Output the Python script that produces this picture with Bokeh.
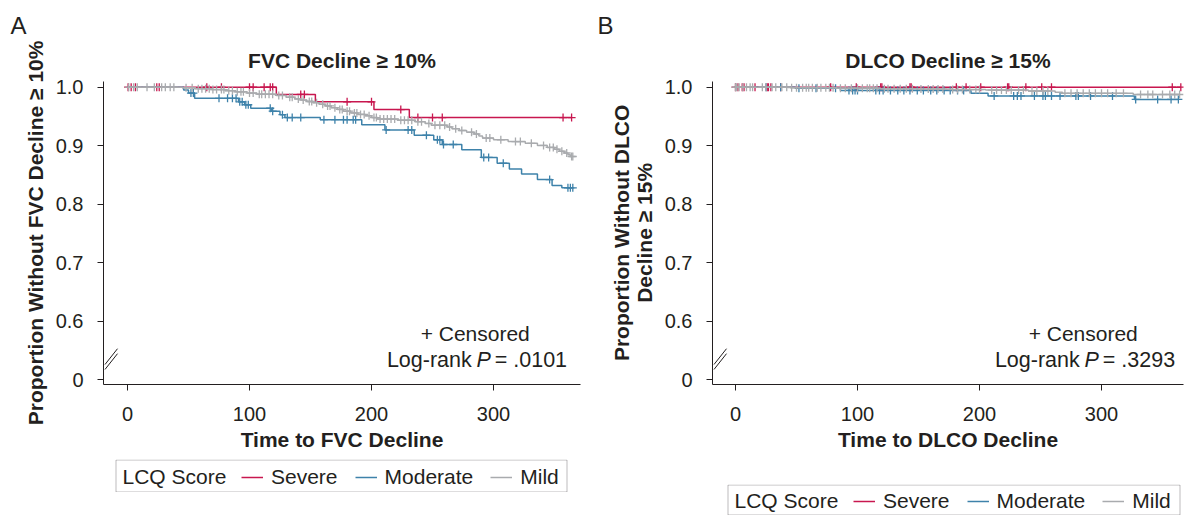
import numpy as np
from bokeh.plotting import figure
from bokeh.models import Legend, LegendItem, Label, Arrow, FixedTicker, Range1d, BoxAnnotation
from bokeh.layouts import row, column
from bokeh.embed import file_html
from bokeh.resources import INLINE

groups = ["Severe", "Moderate", "Mild"]
colors = ["#C8174F", "#3E82AA", "#A9ABAE"]
legend_title = "LCQ Score"

fvc_severe_times = [122, 154, 202, 231]
fvc_severe_surv = [0.9877, 0.9749, 0.9617, 0.948]
fvc_severe_censor = [0.5, 3, 6.5, 24, 26, 65, 77, 100, 103, 112, 117, 119, 142, 145,
                     180, 200, 224, 238, 250, 258, 357, 364]
fvc_moderate_times = [46, 50, 55, 91, 96, 101, 118, 125, 129, 158, 192, 211, 235, 251,
                      258, 274, 290, 303, 313, 323, 336, 348, 356]
fvc_moderate_surv = [0.995, 0.990, 0.981, 0.975, 0.970, 0.964, 0.959, 0.953, 0.948, 0.9445,
                     0.936, 0.927, 0.918, 0.910, 0.902, 0.893, 0.880, 0.870, 0.860, 0.8515,
                     0.842, 0.832, 0.828]
fvc_moderate_censor = [52, 54, 75, 82, 86, 89, 92, 94, 97, 99, 117, 119, 127, 131, 135, 142,
                       161, 170, 177, 180, 185, 187, 212, 230, 233, 245, 254, 256, 259, 267,
                       292, 296, 308, 346, 361, 363, 365]
fvc_mild_times = [45, 55, 68, 80, 88, 98, 106, 122, 130, 137, 142, 147, 152, 157, 162, 167,
                  172, 177, 183, 189, 195, 200, 205, 222, 236, 244, 249, 262, 266, 272, 278,
                  284, 288, 291, 300, 312, 326, 336, 344, 350, 354, 358, 361, 363]
fvc_mild_surv = [0.999, 0.9975, 0.996, 0.994, 0.992, 0.990, 0.988, 0.986, 0.983, 0.980,
                 0.978, 0.9755, 0.9735, 0.971, 0.968, 0.965, 0.962, 0.959, 0.956, 0.9535,
                 0.951, 0.948, 0.9455, 0.9435, 0.941, 0.938, 0.935, 0.932, 0.929, 0.926,
                 0.923, 0.920, 0.9165, 0.913, 0.910, 0.907, 0.904, 0.9005, 0.897, 0.894,
                 0.8905, 0.8875, 0.8845, 0.8815]
fvc_mild_censor = [1, 5, 8, 16, 22, 28, 31, 35, 38, 48, 53, 58, 61, 64, 67, 70, 73, 77, 79,
                   83, 86, 90, 93, 95, 100, 103, 108, 110, 113, 116, 119, 124, 127, 133, 135,
                   140, 144, 149, 151, 155, 160, 164, 166, 170, 174, 176, 180, 182, 186, 188,
                   191, 194, 198, 202, 204, 207, 210, 213, 216, 219, 224, 227, 230, 233, 238,
                   241, 247, 252, 256, 260, 264, 269, 274, 282, 286, 294, 297, 306, 318, 322,
                   331, 341, 346, 349, 352, 356, 360, 364, 365]

dlco_severe_times = []
dlco_severe_surv = []
dlco_severe_censor = [0, 2, 5.5, 7, 16, 26, 27, 29, 37, 78, 99, 119, 120, 143, 144, 181,
                      189, 201, 223, 224, 238, 251, 259, 358, 365]
dlco_moderate_times = [49, 86, 193, 207, 327]
dlco_moderate_surv = [0.998, 0.9945, 0.9895, 0.985, 0.979]
dlco_moderate_censor = [25, 37, 52, 66, 82, 93, 96, 98, 100, 115, 118, 121, 127, 133, 138,
                        143, 149, 154, 160, 165, 171, 176, 182, 187, 212, 228, 231, 234,
                        245, 252, 254, 259, 266, 279, 281, 291, 309, 328, 346, 357, 363]
dlco_mild_times = [45, 82, 118, 150, 178, 205, 240, 262, 268, 326]
dlco_mild_surv = [0.9992, 0.9983, 0.9975, 0.9967, 0.996, 0.995, 0.9935, 0.9915, 0.9895, 0.9875]
dlco_mild_censor = [0, 1, 3, 6, 9, 12, 14, 22, 25, 30, 33, 38, 42, 46, 50, 55, 58, 60, 63,
                    67, 70, 74, 77, 80, 86, 90, 95, 100, 104, 108, 110, 113, 116, 122, 125,
                    130, 135, 140, 145, 152, 158, 162, 166, 170, 178, 182, 186, 192, 197,
                    200, 210, 214, 218, 222, 226, 232, 236, 243, 247, 252, 256, 270, 275,
                    280, 285, 290, 295, 300, 305, 312, 318, 332, 338, 342, 350, 356, 360, 364]

x_ticks = [0, 100, 200, 300]
y_ticks = [0.5, 0.6, 0.7, 0.8, 0.9, 1.0]
y_tick_labels = ["0", "0.6", "0.7", "0.8", "0.9", "1.0"]

FONT = "Liberation Sans"
TXT = "#231f20"
Y_START, Y_AXIS_TOP, Y_END = 0.4918, 1.0097, 1.0798
PAD = "\u00a0" * 7   # keeps the rotated y label centred on the drawn axis, not the frame


def km_xy(times, surv, end):
    x = [0.0] + list(times) + [end]
    last = surv[-1] if len(surv) else 1.0
    y = [1.0] + list(surv) + [last]
    return x, y


def surv_at(times, surv, t):
    tt = np.array([0.0] + list(times), dtype=float)
    ss = np.array([1.0] + list(surv), dtype=float)
    idx = np.searchsorted(tt, np.asarray(t, dtype=float), side="right") - 1
    return ss[idx]


def make_panel(letter, title, xlabel, ylabel, series, pval, x_start, x_end,
               left_b, frame_w, right_b, height, letter_off):
    top_b = 40
    frame_h = 344
    p = figure(width=left_b + frame_w + right_b, height=height,
               x_range=Range1d(x_start, x_end), y_range=Range1d(Y_START, Y_END),
               output_backend="svg", toolbar_location=None,
               min_border_left=left_b, min_border_right=right_b,
               min_border_top=top_b, min_border_bottom=height - top_b - frame_h)
    p.outline_line_color = None
    p.grid.visible = False

    p.title.text = letter
    p.title.align = "left"
    p.title.offset = letter_off
    p.title.standoff = 4
    p.title.text_font = FONT
    p.title.text_font_size = "24px"
    p.title.text_font_style = "normal"
    p.title.text_color = TXT

    for ax in (p.xaxis[0], p.yaxis[0]):
        ax.axis_line_color = TXT
        ax.major_tick_line_color = TXT
        ax.minor_tick_line_color = None
        ax.major_tick_out = 6
        ax.major_tick_in = 0
        ax.major_label_text_font = FONT
        ax.major_label_text_font_size = "20px"
        ax.major_label_text_color = TXT
        ax.axis_label_text_font = FONT
        ax.axis_label_text_font_size = "21px"
        ax.axis_label_text_font_style = "bold"
        ax.axis_label_text_color = TXT
        ax.axis_label_text_line_height = 1.0

    p.xaxis.ticker = FixedTicker(ticks=x_ticks)
    p.xaxis.axis_label = xlabel
    p.xaxis.major_label_standoff = 16
    p.xaxis.axis_label_standoff = 4

    p.yaxis.ticker = FixedTicker(ticks=y_ticks)
    p.yaxis.major_label_overrides = {v: s for v, s in zip(y_ticks, y_tick_labels)}
    p.yaxis.axis_label = "\n".join(line + PAD for line in ylabel.split("\n"))
    p.yaxis.major_label_standoff = 14
    p.yaxis.axis_label_standoff = 6
    p.yaxis.bounds = (Y_START, Y_AXIS_TOP)

    # chart title inside the (extended) frame, above the axis top
    p.add_layout(Label(x=(x_start + x_end) / 2, y=1.0456, text=title, text_align="center",
                       text_baseline="middle", text_font=FONT, text_font_size="21px",
                       text_font_style="bold", text_color=TXT))

    for name, color, (times, surv, cens) in zip(groups, colors, series):
        end = max(cens + list(times))
        xs, ys = km_xy(times, surv, end)
        p.step(xs, ys, mode="after", line_color=color, line_width=1.5)
        p.scatter(cens, surv_at(times, surv, cens), marker="cross", size=8,
                  line_color=color, line_width=1.3)

    p.add_layout(Label(x=285, y=0.5795, text="+ Censored", text_align="center",
                       text_baseline="middle", text_font=FONT, text_font_size="21px",
                       text_color=TXT))
    p.add_layout(Label(x=292, y=0.5345, x_offset=-12, text="Log-rank", text_align="right",
                       text_baseline="middle", text_font=FONT, text_font_size="21.5px",
                       text_color=TXT))
    p.add_layout(Label(x=292, y=0.5345, text="P", text_align="center",
                       text_baseline="middle", text_font=FONT, text_font_size="21.5px",
                       text_font_style="italic", text_color=TXT))
    p.add_layout(Label(x=292, y=0.5345, x_offset=11, text="= " + pval, text_align="left",
                       text_baseline="middle", text_font=FONT, text_font_size="21.5px",
                       text_color=TXT))

    scale = frame_w / (x_end - x_start)
    for dy in (0.0, 0.0085):
        p.add_layout(Arrow(start=None, end=None, x_start=x_start + 1.5 / scale,
                           y_start=0.5175 + dy, x_end=x_start + 14 / scale,
                           y_end=0.5445 + dy, line_color=TXT, line_width=1))
    return p


def make_legend_box(left_b, frame_w, right_b, height, box_x, box_w):
    lp = figure(width=left_b + frame_w + right_b, height=height, x_range=(0, 1),
                y_range=(0, 1), output_backend="svg", toolbar_location=None,
                min_border_left=left_b, min_border_right=right_b, min_border_top=0,
                min_border_bottom=0)
    lp.axis.visible = False
    lp.grid.visible = False
    lp.outline_line_color = None
    lp.add_layout(BoxAnnotation(left=box_x + 0.5, right=box_x + box_w - 0.5,
                                bottom=0.5, top=height - 0.5, left_units="screen",
                                right_units="screen", bottom_units="screen",
                                top_units="screen", fill_alpha=0, line_color=TXT,
                                line_width=1))
    lp.add_layout(Label(x=box_x + 7, y=height / 2, x_units="screen", y_units="screen",
                        text=legend_title, text_baseline="middle", text_font=FONT,
                        text_font_size="21px", text_color=TXT))
    items = []
    for name, color in zip(groups, colors):
        r = lp.line([np.nan], [np.nan], line_color=color, line_width=1.5)
        items.append(LegendItem(label=name, renderers=[r]))
    lg = Legend(items=items, location=(box_x + 126, (height - 30) / 2 + 2),
                border_line_color=None, background_fill_alpha=0,
                orientation="horizontal", padding=5, spacing=17, glyph_width=22,
                glyph_height=20, label_standoff=8, label_height=20, margin=0,
                label_text_font=FONT, label_text_font_size="21px", label_text_color=TXT)
    lp.add_layout(lg, "center")
    return lp


pA = make_panel("A", "FVC Decline \u2265 10%", "Time to FVC Decline",
                "Proportion Without FVC Decline \u2265 10%",
                [(fvc_severe_times, fvc_severe_surv, fvc_severe_censor),
                 (fvc_moderate_times, fvc_moderate_surv, fvc_moderate_censor),
                 (fvc_mild_times, fvc_mild_surv, fvc_mild_censor)],
                ".0101", -19.67, 371.3, 103, 477, 15, 459, -93)
legA = make_legend_box(103, 477, 15, 33, 12, 452)

pB = make_panel("B", "DLCO Decline \u2265 15%", "Time to DLCO Decline",
                "Proportion Without DLCO\nDecline \u2265 15%",
                [(dlco_severe_times, dlco_severe_surv, dlco_severe_censor),
                 (dlco_moderate_times, dlco_moderate_surv, dlco_moderate_censor),
                 (dlco_mild_times, dlco_mild_surv, dlco_mild_censor)],
                ".3293", -18.85, 367.2, 117, 471, 2, 484, -115)
legB = make_legend_box(117, 471, 2, 31, 15, 453)

layout = row(column(pA, legA), column(pB, legB))
open("out.html", "w").write(file_html(layout, INLINE))
